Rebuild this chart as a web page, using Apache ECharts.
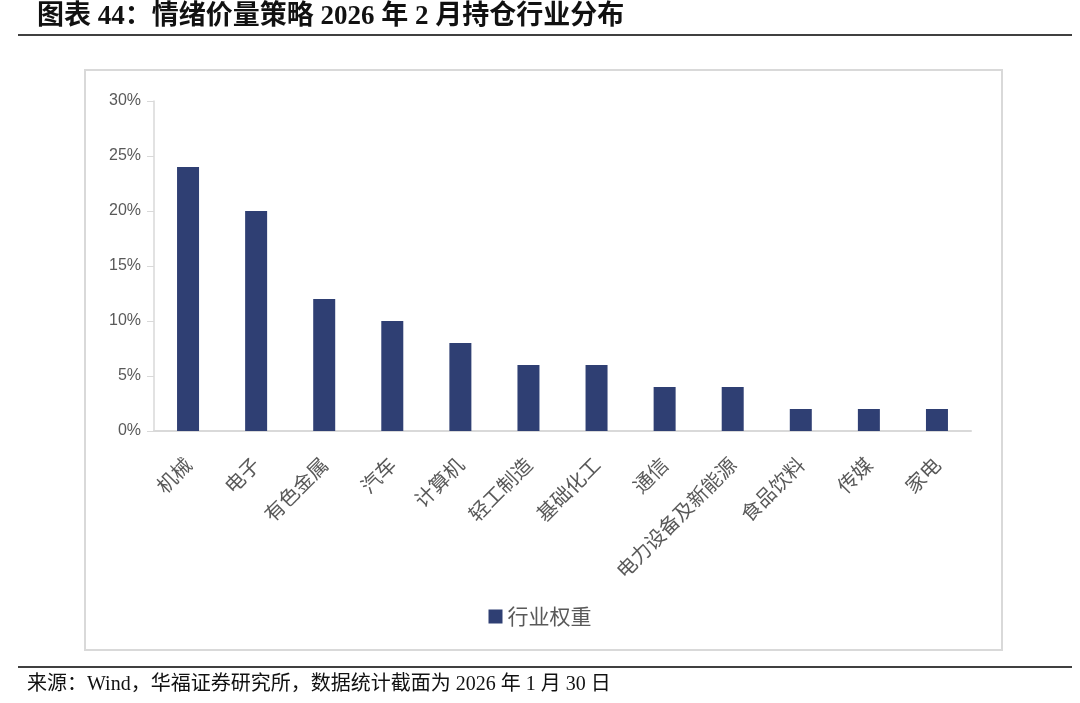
<!DOCTYPE html>
<html><head><meta charset="utf-8">
<script src="https://cdn.jsdelivr.net/npm/echarts@6/dist/echarts.min.js"></script>
<style>html,body{margin:0;padding:0;background:#fff}#c{width:1080px;height:703px}</style>
</head><body><div id="c"></div>
<script>
const categories = ['机械','电子','有色金属','汽车','计算机','轻工制造','基础化工','通信','电力设备及新能源','食品饮料','传媒','家电'];
const weights = [24,20,12,10,8,6,6,4,4,2,2,2];
const seriesName = '行业权重';
const titleText = '图表 44：情绪价量策略 2026 年 2 月持仓行业分布';
const sourceText = '来源：Wind，华福证券研究所，数据统计截面为 2026 年 1 月 30 日';

const chart = echarts.init(document.getElementById('c'));
chart.setOption({
  animation: false,
  backgroundColor: '#fff',
  grid: {left: 154, right: 109, top: 101, bottom: 272},
  legend: {
    data: [seriesName], left: 'center', top: 601, icon: 'rect', itemWidth: 14, itemHeight: 14, itemGap: 9,
    textStyle: {color: '#595959', fontSize: 21, fontFamily: 'Noto Sans CJK SC'}
  },
  xAxis: {
    type: 'category', data: categories,
    axisLine: {lineStyle: {color: '#d9d9d9', width: 2}},
    axisTick: {show: false},
    axisLabel: {rotate: 45, interval: 0, margin: 30, color: '#595959', fontSize: 20, fontFamily: 'Noto Sans CJK SC'}
  },
  yAxis: {
    type: 'value', min: 0, max: 30, interval: 5,
    axisLine: {show: true, lineStyle: {color: '#d9d9d9', width: 1.5}},
    axisTick: {show: true, inside: false, length: 7, lineStyle: {color: '#d9d9d9'}},
    splitLine: {show: false},
    axisLabel: {formatter: '{value}%', color: '#595959', fontSize: 16, fontFamily: 'Liberation Sans, Arial', margin: 13}
  },
  series: [{
    name: seriesName, type: 'bar', data: weights, barWidth: 22,
    itemStyle: {color: '#2F3F73'}
  }],
  graphic: [
    {type: 'text', left: 37, top: 4, style: {text: titleText, fill: '#111', font: 'bold 27px "Liberation Serif", "Noto Sans CJK SC"'}},
    {type: 'line', shape: {x1: 18, y1: 35, x2: 1072, y2: 35}, style: {stroke: '#000', lineWidth: 1.5}},
    {type: 'rect', shape: {x: 85, y: 70, width: 917, height: 580}, style: {fill: 'none', stroke: '#d9d9d9', lineWidth: 2}},
    {type: 'line', shape: {x1: 18, y1: 667, x2: 1072, y2: 667}, style: {stroke: '#000', lineWidth: 1.5}},
    {type: 'text', left: 27, top: 675, style: {text: sourceText, fill: '#111', font: '20px "Liberation Serif", "Noto Sans CJK SC"'}}
  ]
});
</script></body></html>
